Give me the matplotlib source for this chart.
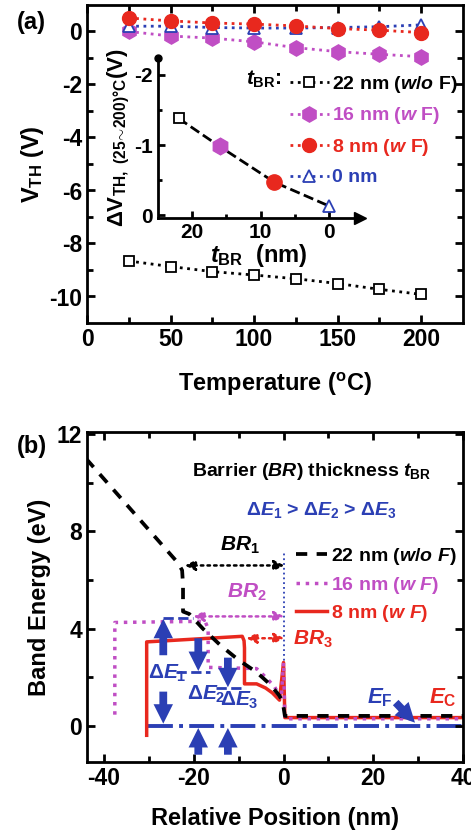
import matplotlib
matplotlib.use("Agg")
import matplotlib.pyplot as plt

plt.rcParams['font.family'] = ['Liberation Sans', 'DejaVu Sans']
plt.rcParams['font.weight'] = 'bold'
plt.rcParams['axes.labelweight'] = 'bold'
plt.rcParams['axes.unicode_minus'] = False
plt.rcParams['mathtext.fontset'] = 'custom'
plt.rcParams['mathtext.rm'] = 'Liberation Sans:bold'
plt.rcParams['mathtext.it'] = 'Liberation Sans:bold:italic'
plt.rcParams['mathtext.bf'] = 'Liberation Sans:bold'
plt.rcParams['mathtext.sf'] = 'Liberation Sans:bold'

BLACK = 'black'
MAGENTA = '#c04ec4'
RED = '#e8281e'
BLUE = '#2b3fb4'

# ---- panel (a) data: V_TH vs temperature
temps = [25, 50, 75, 100, 125, 150, 175, 200]
vth_22 = [-8.66, -8.87, -9.06, -9.19, -9.33, -9.51, -9.73, -9.92]
vth_16 = [0.0, -0.17, -0.25, -0.39, -0.61, -0.76, -0.86, -0.95]
vth_8 = [0.51, 0.40, 0.32, 0.28, 0.21, 0.11, 0.05, -0.04]
vth_0 = [0.20, 0.20, 0.15, 0.13, 0.13, 0.15, 0.18, 0.25]

# inset: delta V_TH (25~200 C) vs barrier thickness
t_br = [22, 16, 8, 0]
dvth = [-1.38, -0.98, -0.47, -0.13]

# ---- panel (b) data: band profiles
x_22 = [-44, -23.5, -22.6, -22.4, -22.4, -21, -18, -14, -10, -6, -3, -1, -0.2, 0.3, 40]
e_22 = [11.0, 6.7, 6.4, 5.8, 4.7, 4.6, 4.0, 3.3, 2.7, 2.2, 1.7, 1.25, 1.0, 0.40, 0.40]
x_16 = [-37.6, -37.6, -17.5, -16.8, -16.8, -6, -4, -2, -0.5, 0, 0.3, 40]
e_16 = [0.45, 4.25, 4.3, 4.0, 2.4, 2.35, 2.0, 1.6, 1.1, 2.6, 0.28, 0.28]
x_8 = [-30.5, -30.5, -9.2, -8.8, -8.7, -8.7, -6, -4, -2.5, -0.9, 0, 0.3, 40]
e_8 = [-0.4, 3.45, 3.68, 3.5, 3.2, 1.72, 1.72, 1.55, 1.35, 1.05, 2.6, 0.33, 0.33]
labels = ['22 nm ($w/o$ F)', '16 nm ($w$ F)', '8 nm ($w$ F)', '0 nm']
labels_b = ['22 nm ($w/o$ $F$)', '16 nm ($w$ $F$)', '8 nm ($w$ $F$)']

fig = plt.figure(figsize=(4.71, 8.33), dpi=100)
W, H = 471.0, 833.0


def style_axes(ax):
    for s in ax.spines.values():
        s.set_linewidth(2.0)
    ax.tick_params(which='both', direction='in', top=True, right=True, width=2.0)
    ax.tick_params(which='major', length=6, labelsize=16.5)
    ax.tick_params(which='minor', length=4)


# ================= panel (a)
ax = fig.add_axes([87 / W, 1 - 323 / H, 376 / W, 318 / H])
style_axes(ax)
ax.plot(temps, vth_22, ls=':', lw=2, color=BLACK, marker='s', ms=6.5, mfc='white', mew=1.3, label=labels[0])
ax.plot(temps, vth_16, ls=':', lw=2, color=MAGENTA, marker='h', ms=11, label=labels[1])
ax.plot(temps, vth_0, ls=':', lw=2, color=BLUE, marker='^', ms=8, mfc='white', mew=1.3, label=labels[3])
ax.plot(temps, vth_8, ls=':', lw=2, color=RED, marker='o', ms=10, label=labels[2])
ax.set_xlim(0, 225)
ax.set_ylim(-11, 1)
ax.set_xticks([0, 50, 100, 150, 200])
ax.set_xticks([25, 75, 125, 175], minor=True)
ax.set_yticks([0, -2, -4, -6, -8, -10])
ax.set_yticks([-1, -3, -5, -7, -9], minor=True)
ax.set_xlabel('Temperature ($^{\\mathrm{o}}$C)', fontsize=17, labelpad=14)
ax.set_ylabel('V$_{\\mathrm{TH}}$ (V)', fontsize=17, labelpad=2)

h, l = ax.get_legend_handles_labels()
order = [0, 1, 3, 2]
leg = fig.legend([h[i] for i in order], [l[i] for i in order], loc='upper left',
                 bbox_to_anchor=(280 / W, 1 - 64 / H), frameon=False, fontsize=14,
                 handlelength=2.0, handletextpad=0.2, labelspacing=0.55, numpoints=1,
                 borderpad=0, labelcolor=[BLACK, MAGENTA, RED, BLUE])
fig.text(282 / W, 1 - 79 / H, '$t_{\\mathrm{BR}}$:', fontsize=15, ha='right', va='center')
fig.text(17 / W, 1 - 22 / H, '(a)', fontsize=17, ha='left', va='center')

# inset
ins = fig.add_axes([158 / W, 1 - 218 / H, 202 / W, 160 / H])
ins.set_facecolor('none')
ins.plot(t_br, dvth, ls='--', lw=2, color=BLACK, zorder=1)
ins.plot(t_br[0], dvth[0], ls='none', marker='s', ms=7, mfc='white', mec=BLACK, mew=1.3)
ins.plot(t_br[1], dvth[1], ls='none', marker='h', ms=12, color=MAGENTA)
ins.plot(t_br[2], dvth[2], ls='none', marker='o', ms=11, color=RED)
ins.plot(t_br[3], dvth[3], ls='none', marker='^', ms=9, mfc='white', mec=BLUE, mew=1.3)
ins.set_xlim(25, -4.5)
ins.set_ylim(0.04, -2.24)
for s in ['top', 'right']:
    ins.spines[s].set_visible(False)
for s in ['left', 'bottom']:
    ins.spines[s].set_linewidth(2.0)
ins.set_xticks([20, 10, 0])
ins.set_xticks([15, 5], minor=True)
ins.set_yticks([0, -1, -2])
ins.set_yticks([-0.5, -1.5], minor=True)
ins.tick_params(which='both', direction='in', width=2.0, labelsize=15)
ins.tick_params(which='major', length=5)
ins.tick_params(which='minor', length=3)
ins.plot(1, 0, marker='>', ms=9, color=BLACK, transform=ins.transAxes, clip_on=False)
ins.plot(0, 1, marker='o', ms=5, color=BLACK, transform=ins.transAxes, clip_on=False)
ins.set_xlabel('$t_{\\mathrm{BR}}$  (nm)', fontsize=17, labelpad=0)
ins.set_ylabel('$\\Delta$V$_{\\mathrm{TH,\\ (25\\!\\sim\\!200)°C}}$(V)', fontsize=16, labelpad=2)

# ================= panel (b)
bx = fig.add_axes([87 / W, 1 - 762 / H, 376 / W, 330 / H])
style_axes(bx)
bx.plot(x_16, e_16, ls=':', lw=2.5, color=MAGENTA, label=labels_b[1], zorder=3)
bx.plot(x_8, e_8, ls='-', lw=2.5, color=RED, label=labels_b[2], zorder=2)
bx.plot(x_22, e_22, ls=(0, (3, 2.5)), lw=2.7, color=BLACK, label=labels_b[0], zorder=4)
bx.plot([-30.2, 40], [0, 0], ls='-.', lw=2.8, color=BLUE, zorder=1)
bx.plot([0.2, 0.2], [0.3, 7.1], ls=':', lw=1.3, color=BLUE, zorder=1)
bx.set_xlim(-43.8, 40)
bx.set_ylim(-1.5, 12.1)
bx.set_xticks([-40, -20, 0, 20, 40])
bx.set_xticks([-30, -10, 10, 30], minor=True)
bx.set_yticks([0, 4, 8, 12])
bx.set_yticks([2, 6, 10], minor=True)
bx.set_xlabel('Relative Position (nm)', fontsize=17, labelpad=12)
bx.set_ylabel('Band Energy (eV)', fontsize=17, labelpad=4)

hb, lb = bx.get_legend_handles_labels()
fig.legend([hb[2], hb[0], hb[1]], [lb[2], lb[0], lb[1]], loc='upper left',
           bbox_to_anchor=(286 / W, 1 - 536 / H), frameon=False, fontsize=14,
           handlelength=1.6, handletextpad=0.2, labelspacing=0.4, borderpad=0,
           labelcolor=[BLACK, MAGENTA, RED])
fig.text(17 / W, 1 - 447 / H, '(b)', fontsize=17, ha='left', va='center')

# blue dashed reference levels
for xs, yy in [([-26.8, -20.1], 4.45), ([-23.9, -16.4], 2.21), ([-15, -9], 1.55)]:
    bx.plot(xs, [yy, yy], ls='--', lw=2, color=BLUE, zorder=1)

arr = dict(arrowstyle='simple,head_width=1.0,head_length=1.0,tail_width=0.4',
           color=BLUE, lw=0, mutation_scale=14, shrinkA=0, shrinkB=0)
for tail, tip in [((-26.8, 2.9), (-26.8, 4.4)), ((-26.8, 1.4), (-26.8, 0.08)),
                  ((-19.0, 3.6), (-19.0, 2.25)), ((-12.4, 2.8), (-12.4, 1.58)),
                  ((-19.0, -1.2), (-19.0, -0.1)), ((-12.4, -1.2), (-12.4, -0.1)),
                  ((25.0, 0.95), (29.3, 0.12))]:
    bx.annotate('', xy=tip, xytext=tail, arrowprops=arr, zorder=5)

dbl = dict(arrowstyle='<|-|>,head_width=0.3,head_length=0.6', lw=1.8, ls=':', shrinkA=0, shrinkB=0)
bx.annotate('', xy=(0.2, 6.6), xytext=(-22, 6.6), arrowprops=dict(dbl, color=BLACK))
bx.annotate('', xy=(0.2, 4.5), xytext=(-20.1, 4.5), arrowprops=dict(dbl, color=MAGENTA))
bx.annotate('', xy=(0.2, 3.6), xytext=(-8.3, 3.6), arrowprops=dict(dbl, color=RED))

bx.text(-20.5, 10.3, 'Barrier ($BR$) thickness $t_{\\mathrm{BR}}$', fontsize=14, color=BLACK, va='baseline')
bx.text(-8.3, 8.7, '$\\Delta E_1$ > $\\Delta E_2$ > $\\Delta E_3$', fontsize=14, color=BLUE, va='baseline')
bx.text(-14.2, 7.2, '$BR_1$', fontsize=15, color=BLACK, va='baseline')
bx.text(-12.7, 5.26, '$BR_2$', fontsize=15, color=MAGENTA, va='baseline')
bx.text(2.1, 3.34, '$BR_3$', fontsize=15, color=RED, va='baseline')
bx.text(-30.3, 1.95, '$\\Delta E_1$', fontsize=15, color=BLUE, va='baseline')
bx.text(-21.6, 1.07, '$\\Delta E_2$', fontsize=15, color=BLUE, va='baseline')
bx.text(-14.2, 0.8, '$\\Delta E_3$', fontsize=15, color=BLUE, va='baseline')
bx.text(18.7, 0.93, '$E_{\\mathrm{F}}$', fontsize=16, color=BLUE, va='baseline')
bx.text(32.4, 0.93, '$E_{\\mathrm{C}}$', fontsize=16, color=RED, va='baseline')

fig.savefig('out.png', dpi=100)
